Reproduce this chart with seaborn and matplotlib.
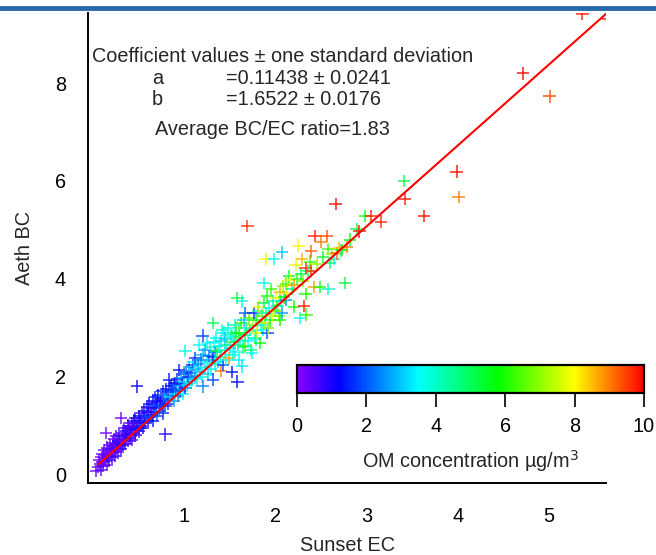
import numpy as np
import pandas as pd
import matplotlib
matplotlib.use("Agg")
import matplotlib.pyplot as plt
import seaborn as sns
from matplotlib.colors import LinearSegmentedColormap, Normalize
from matplotlib.cm import ScalarMappable
from matplotlib.lines import Line2D

# ---------------- data ----------------
pts_a = [(0.03,0.07,0.3),(0.05,0.15,0.2),(0.06,0.30,0.3),(0.07,0.22,0.5),(0.08,0.10,0.4),(0.09,0.35,0.1),
         (0.10,0.25,0.4),(0.10,0.42,0.3),(0.11,0.18,0.6),(0.12,0.33,0.2),(0.12,0.50,0.4),(0.13,0.28,0.2),
         (0.14,0.85,0.2),(0.14,0.40,0.5),(0.15,0.20,0.3),(0.15,0.55,0.4),(0.16,0.36,0.6),(0.17,0.47,0.2),
         (0.17,0.30,0.8),(0.18,0.60,0.4),(0.19,0.42,0.3),(0.20,0.35,0.5),(0.20,0.52,0.7),(0.21,0.65,0.4),
         (0.22,0.45,0.2),(0.22,0.58,0.6),(0.23,0.72,0.3),(0.24,0.38,0.9),(0.24,0.50,0.5),(0.25,0.62,0.3),
         (0.25,0.78,0.5),(0.26,0.55,0.7),(0.27,0.45,0.4),(0.27,0.68,1.0)]
pts_b = [(0.28,0.58,0.3),(0.28,0.80,0.6),(0.29,0.65,0.8),(0.30,1.16,0.3),(0.30,0.52,0.5),(0.31,0.72,0.4),
         (0.32,0.60,1.1),(0.32,0.85,0.5),(0.33,0.68,0.3),(0.34,0.78,0.7),(0.34,0.95,0.5),(0.35,0.62,0.9),
         (0.36,0.72,0.4),(0.36,0.88,1.2),(0.37,0.80,0.6),(0.38,0.68,0.5),(0.38,1.00,0.8),(0.39,0.90,0.3),
         (0.40,0.75,1.0),(0.40,0.95,0.5),(0.41,0.82,1.3),(0.42,1.05,0.6),(0.42,0.70,0.4),(0.43,0.92,0.9),
         (0.44,0.85,0.5),(0.44,1.10,1.1),(0.45,0.98,0.5),(0.46,0.80,0.7),(0.46,1.15,0.9),(0.47,0.90,1.4),
         (0.48,1.80,1.1),(0.48,1.05,0.6),(0.49,0.95,0.8),(0.50,1.20,1.2),(0.50,0.88,0.5),(0.51,1.10,1.0),
         (0.52,1.00,1.5),(0.53,1.25,0.7),(0.54,0.95,1.1),(0.55,1.15,0.8)]
pts_c = [(0.56,1.30,1.3),(0.57,1.05,0.9),(0.58,1.20,1.7),(0.59,1.38,1.0),(0.60,1.10,1.4),(0.60,1.28,0.6),
         (0.61,1.45,1.2),(0.62,1.18,1.9),(0.63,1.35,0.8),(0.64,1.22,1.5),(0.65,1.50,1.1),(0.65,1.10,1.3),
         (0.66,1.40,2.1),(0.67,1.28,1.0),(0.68,1.58,1.6),(0.69,1.35,0.9),(0.70,1.20,1.8),(0.70,1.48,1.3),
         (0.71,1.62,1.1),(0.72,1.30,2.4),(0.73,1.45,1.5),(0.74,1.55,1.0),(0.75,1.40,1.9),(0.76,1.70,1.4),
         (0.76,1.25,1.6),(0.77,1.50,1.2),(0.78,1.62,2.6),(0.79,0.82,0.8),(0.79,1.40,1.7),(0.80,1.75,1.3),
         (0.81,1.55,2.0),(0.82,1.45,1.5),(0.83,1.94,1.4),(0.83,1.68,1.7),(0.84,1.58,3.0),(0.85,1.80,1.2)]
pts_d = [(0.86,1.62,2.2),(0.87,1.72,1.6),(0.88,1.50,2.6),(0.89,1.85,1.8),(0.90,1.87,1.3),(0.90,1.65,3.3),
         (0.91,1.75,1.9),(0.92,1.95,1.5),(0.93,1.60,2.4),(0.94,2.14,1.3),(0.94,1.80,2.8),(0.95,1.70,2.0),
         (0.96,1.98,2.5),(0.97,1.85,1.6),(0.98,1.65,3.5),(0.99,2.05,2.2),(1.00,1.90,3.0),(1.01,1.77,1.7),
         (1.01,2.52,3.8),(1.02,2.10,2.1),(1.03,1.82,3.3),(1.04,2.00,1.5),(1.05,2.20,2.7),(1.06,1.88,3.6),
         (1.07,2.08,1.9),(1.08,1.95,2.8),(1.09,2.24,1.6),(1.10,2.30,3.4),(1.11,2.02,2.4),(1.12,2.38,1.7),
         (1.13,2.15,3.2),(1.14,1.95,3.8),(1.15,2.25,2.5),(1.16,2.65,3.5),(1.17,2.10,3.0),(1.18,2.35,2.2),
         (1.19,2.00,3.5),(1.20,1.80,2.4),(1.20,2.84,1.8),(1.20,2.45,2.9)]
pts_e = [(1.22,2.20,3.3),(1.23,2.55,2.6),(1.25,2.69,3.4),(1.25,2.30,3.8),(1.26,2.05,3.0),(1.27,2.42,2.0),
         (1.28,2.60,3.9),(1.29,2.15,3.5),(1.30,2.35,2.8),(1.31,3.10,5.0),(1.31,2.41,1.6),(1.31,1.94,1.8),
         (1.32,2.70,3.6),(1.33,2.25,4.0),(1.34,2.50,2.4),(1.35,2.80,3.8),(1.36,2.52,5.3),(1.37,2.30,3.4),
         (1.38,2.62,3.7),(1.39,2.40,4.1),(1.40,2.11,9.0),(1.40,2.72,3.2),(1.41,2.95,4.0),(1.42,2.24,1.7),
         (1.43,2.90,3.5),(1.44,2.55,4.2),(1.45,2.78,3.0),(1.46,2.35,3.7),(1.47,2.65,4.5),(1.48,3.00,3.8),
         (1.49,2.38,8.8),(1.50,2.58,3.3),(1.51,2.85,4.3),(1.52,2.82,3.6),(1.52,2.09,1.4),(1.53,2.45,3.9),
         (1.54,2.70,5.4),(1.55,3.05,4.1),(1.56,2.50,3.5),(1.57,2.90,5.8),(1.58,1.90,1.3),(1.58,3.61,5.2),
         (1.59,2.65,4.4),(1.60,2.90,5.6),(1.60,2.35,3.4)]
pts_f = [(1.61,2.75,4.0),(1.62,3.10,6.0),(1.63,3.54,3.8),(1.63,2.21,3.3),(1.64,2.60,4.3),(1.65,3.15,3.0),
         (1.66,2.85,5.3),(1.67,2.62,6.0),(1.67,3.30,2.0),(1.68,3.00,4.6),(1.69,5.08,9.6),(1.70,2.72,3.6),
         (1.71,3.20,6.5),(1.72,2.95,4.0),(1.73,2.55,4.8),(1.74,2.48,3.5),(1.75,3.05,7.0),(1.76,3.30,1.6),
         (1.77,2.80,4.4),(1.78,2.76,3.7),(1.79,3.15,5.8),(1.80,2.90,7.5),(1.81,3.35,4.2),(1.82,3.43,7.8),
         (1.83,2.69,5.6),(1.84,3.05,3.9),(1.85,3.25,6.4),(1.86,2.95,3.7),(1.87,3.50,5.2),(1.87,3.92,3.8),
         (1.88,3.10,7.2),(1.89,4.40,7.9),(1.90,3.30,4.6),(1.91,2.89,1.8),(1.91,3.64,6.0),(1.92,3.00,6.8),
         (1.93,3.40,3.6),(1.94,3.15,5.5),(1.95,3.79,6.2),(1.96,3.23,7.8),(1.97,3.55,4.3),(1.98,4.40,3.6),
         (1.99,3.35,6.6),(2.00,3.60,8.0),(2.02,3.45,5.0),(2.04,3.25,6.9),(2.05,3.74,8.6),(2.05,3.16,6.0),
         (2.06,3.55,4.0),(2.07,3.30,2.6),(2.07,4.54,3.0),(2.08,3.85,7.0),(2.09,3.62,5.8)]
pts_g = [(2.11,3.57,2.4),(2.12,3.90,6.4),(2.13,3.70,8.2),(2.15,4.05,5.5),(2.16,3.98,7.9),(2.18,3.80,4.6),
         (2.20,3.88,8.8),(2.20,3.43,6.0),(2.22,4.29,7.9),(2.24,4.00,6.2),(2.25,4.68,7.9),(2.27,3.20,3.6),
         (2.28,4.10,5.2),(2.29,4.40,8.6),(2.30,3.95,6.8),(2.31,3.45,9.8),(2.33,4.22,9.7),(2.33,3.69,6.0),
         (2.34,3.27,6.2),(2.36,4.15,4.8),(2.38,4.35,6.2),(2.39,4.17,9.6),(2.39,4.56,9.2),(2.42,3.83,8.8),
         (2.43,4.88,9.8),(2.45,4.30,7.0),(2.49,3.83,6.0),(2.50,4.76,9.0),(2.52,4.45,5.4),(2.56,4.88,9.4),
         (2.58,3.79,4.0),(2.58,4.61,6.3),(2.60,4.32,4.8),(2.62,4.50,7.2),(2.64,4.40,3.8),(2.66,5.53,9.9),
         (2.67,4.52,9.2),(2.70,4.62,8.5),(2.72,4.58,4.2),(2.73,4.59,6.0),(2.76,3.91,5.2),(2.78,4.65,9.0),
         (2.82,4.80,5.8)]
pts_h = [(2.89,5.02,5.3),(2.92,4.97,9.8),(2.98,5.29,6.0),(3.05,5.29,9.8),(3.16,5.17,9.7),(3.41,6.00,5.2),
         (3.42,5.63,9.8),(3.63,5.29,9.9),(3.99,6.19,9.9),(4.01,5.67,9.0),(4.72,8.20,9.9),(5.01,7.73,9.4),
         (5.37,9.42,9.8),(5.65,9.31,9.9)]

all_pts = pts_a + pts_b + pts_c + pts_d + pts_e + pts_f + pts_g + pts_h
sunset_ec = [p[0] for p in all_pts]
aeth_bc = [p[1] for p in all_pts]
om_conc = [p[2] for p in all_pts]

fit_a = 0.11438
fit_b = 1.6522
fit_x = [0.06, 5.65]
fit_y = [fit_a + fit_b * v for v in fit_x]

x_ticks = [1, 2, 3, 4, 5]
y_ticks = [0, 2, 4, 6, 8]
cbar_ticks = [0, 2, 4, 6, 8, 10]

# ---------------- style ----------------
sns.set_theme(style="white")
plt.rcParams['font.family'] = ['Liberation Sans', 'DejaVu Sans']
FS = 14.3

cmap = LinearSegmentedColormap.from_list(
    "om_rainbow",
    [(0.0, "#8c00ff"), (0.12, "#0000ff"), (0.35, "#00ffff"), (0.58, "#00ff00"),
     (0.80, "#ffff00"), (0.90, "#ff8000"), (1.0, "#ff0000")])
norm = Normalize(0, 10)

fig = plt.figure(figsize=(6.56, 5.55), dpi=100)
ax = fig.add_axes([88/656, 1 - 483.3/555, (606 - 88)/656, (483.3 - 12.7)/555])

df = pd.DataFrame({"Sunset EC": sunset_ec, "Aeth BC": aeth_bc, "OM": om_conc})
sns.scatterplot(data=df, x="Sunset EC", y="Aeth BC", hue="OM", palette=cmap,
                hue_norm=norm, marker="+", s=80, linewidth=1.1, alpha=0.9,
                legend=False, ax=ax, zorder=2)
sns.lineplot(x=fit_x, y=fit_y, color="red", linewidth=1.5, ax=ax, zorder=3)

ax.set_xlim(-0.06, 5.63)
ax.set_ylim(-0.18, 9.44)
ax.set_xticks(x_ticks)
ax.set_yticks(y_ticks)
ax.tick_params(axis="both", which="major", direction="out", length=10, width=1.2,
               labelsize=FS, colors="black", pad=6)
ax.tick_params(axis="x", pad=7)
for side in ["top", "right"]:
    ax.spines[side].set_visible(False)
for side in ["left", "bottom"]:
    ax.spines[side].set_color("black")
    ax.spines[side].set_linewidth(1.4)
ax.set_xlabel("Sunset EC", fontsize=FS, labelpad=7)
ax.set_ylabel("Aeth BC", fontsize=FS, labelpad=15)

# annotation text
ax.text(92/656, 1 - 56/555, "Coefficient values ± one standard deviation",
        transform=fig.transFigure, fontsize=FS, va="center", ha="left")
ax.text(152/656, 1 - 79/555, "a", transform=fig.transFigure, fontsize=FS, va="center")
ax.text(226/656, 1 - 79/555, "=0.11438 ± 0.0241", transform=fig.transFigure, fontsize=FS, va="center")
ax.text(152/656, 1 - 100/555, "b", transform=fig.transFigure, fontsize=FS, va="center")
ax.text(226/656, 1 - 100/555, "=1.6522 ± 0.0176", transform=fig.transFigure, fontsize=FS, va="center")
ax.text(155/656, 1 - 129/555, "Average BC/EC ratio=1.83", transform=fig.transFigure, fontsize=FS, va="center")

# colorbar inset
cax = fig.add_axes([297/656, 1 - 393/555, 347/656, 28/555])
cb = fig.colorbar(ScalarMappable(norm=norm, cmap=cmap), cax=cax, orientation="horizontal")
cb.set_ticks(cbar_ticks)
cb.outline.set_linewidth(1.6)
cb.outline.set_edgecolor("black")
cax.tick_params(axis="x", direction="out", length=10, width=1.2, labelsize=FS, pad=7, colors="black")
cb.set_label("OM concentration µg/m$^3$", fontsize=FS, labelpad=9)

# blue page rule at the top
fig.add_artist(Line2D([0, 1], [1 - 8/555, 1 - 8/555], transform=fig.transFigure,
                      color="#2868a8", linewidth=3.5))

fig.savefig("out.png", dpi=100)
